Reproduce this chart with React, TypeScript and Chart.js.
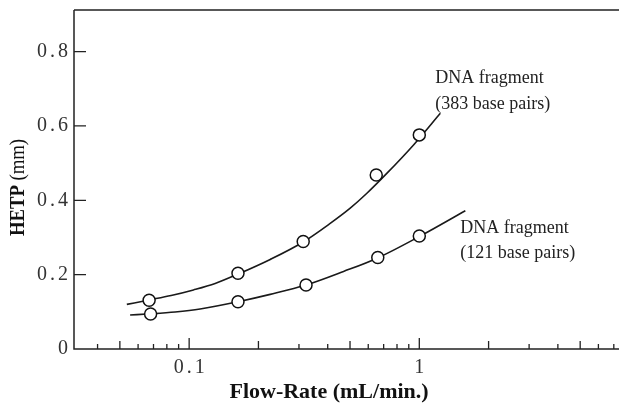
import { useEffect, useRef } from 'react';
import { Chart, registerables } from 'chart.js';

Chart.register(...registerables);

// Smooth curves drawn through the data in the figure
const bp383CurveX = [0.0536, 0.067, 0.0835, 0.1044, 0.1297, 0.1633, 0.225, 0.313, 0.41, 0.501, 0.592, 0.724, 0.944, 1.234];
const bp383CurveY = [0.12, 0.132, 0.144, 0.159, 0.1763, 0.2018, 0.241, 0.288, 0.338, 0.379, 0.419, 0.473, 0.549, 0.634];
const bp121CurveX = [0.0554, 0.0682, 0.0869, 0.1116, 0.1633, 0.225, 0.3216, 0.4688, 0.663, 1.01, 1.585];
const bp121CurveY = [0.0915, 0.0947, 0.0996, 0.1076, 0.1273, 0.147, 0.172, 0.2086, 0.2457, 0.304, 0.372];

// Measured points (open circles)
const bp383X = [0.067, 0.163, 0.313, 0.65, 1.0];
const bp383Y = [0.131, 0.204, 0.289, 0.468, 0.576];
const bp121X = [0.068, 0.163, 0.322, 0.66, 1.0];
const bp121Y = [0.094, 0.127, 0.172, 0.246, 0.304];

// Axis ticks
const xTicks = [0.04, 0.05, 0.06, 0.07, 0.08, 0.09, 0.1, 0.2, 0.3, 0.4, 0.5, 0.6, 0.7, 0.8, 0.9, 1, 2, 3, 4, 5, 6, 7];
const xLabelValues = [0.1, 1];
const xLabelTexts = ['0.1', '1'];
const yTicks = [0, 0.2, 0.4, 0.6, 0.8];

const SERIF = '"Liberation Serif", "Times New Roman", serif';

const toPoints = (xs: number[], ys: number[]) => xs.map((x, i) => ({ x, y: ys[i] }));

const noPadding = (s: any) => {
  s.paddingTop = 0;
  s.paddingBottom = 0;
  s.paddingLeft = 0;
  s.paddingRight = 0;
};

const paperPlugin = {
  id: 'paperAxes',
  beforeDraw(chart: any) {
    // spaced-out digits on the tick labels
    chart.ctx.letterSpacing = '3px';
  },
  afterDraw(chart: any) {
    const { ctx, chartArea: a, scales } = chart;
    const xs = scales.x;
    const ys = scales.y;
    const right = 619; // visible page edge
    ctx.save();

    // x tick labels (only the decades are labelled)
    ctx.letterSpacing = '3px';
    ctx.fillStyle = '#333';
    ctx.font = `20px ${SERIF}`;
    ctx.textAlign = 'center';
    ctx.textBaseline = 'middle';
    xLabelValues.forEach((v, i) => {
      ctx.fillText(xLabelTexts[i], xs.getPixelForValue(v) + 1.5, a.bottom + 19);
    });
    ctx.letterSpacing = '0px';

    // frame: top, left, bottom (no right side)
    ctx.strokeStyle = '#222';
    ctx.lineWidth = 1.5;
    ctx.beginPath();
    ctx.moveTo(a.left, a.top);
    ctx.lineTo(right, a.top);
    ctx.moveTo(a.left, a.top);
    ctx.lineTo(a.left, a.bottom);
    ctx.lineTo(right, a.bottom);
    ctx.stroke();

    // inward ticks
    ctx.lineWidth = 1.3;
    ctx.beginPath();
    xTicks.forEach((v) => {
      const px = xs.getPixelForValue(v);
      const m = Math.round(v / Math.pow(10, Math.floor(Math.log10(v) + 1e-9)));
      const len = m === 1 ? 11 : m === 2 || m === 5 ? 8 : 5;
      ctx.moveTo(px, a.bottom);
      ctx.lineTo(px, a.bottom - len);
    });
    yTicks.slice(1).forEach((v) => {
      const py = ys.getPixelForValue(v);
      ctx.moveTo(a.left, py);
      ctx.lineTo(a.left + 12, py);
    });
    ctx.stroke();

    // series labels
    ctx.fillStyle = '#222';
    ctx.font = `18px ${SERIF}`;
    ctx.textAlign = 'left';
    ctx.textBaseline = 'middle';
    const l1x = xs.getPixelForValue(1.174);
    const l1y = ys.getPixelForValue(0.729);
    ctx.fillText('DNA fragment', l1x, l1y);
    ctx.fillText('(383 base pairs)', l1x, l1y + 26);
    const l2x = xs.getPixelForValue(1.507);
    const l2y = ys.getPixelForValue(0.3256);
    ctx.fillText('DNA fragment', l2x, l2y);
    ctx.fillText('(121 base pairs)', l2x, l2y + 25);

    // x title
    ctx.fillStyle = '#111';
    ctx.font = `bold 22px ${SERIF}`;
    ctx.textAlign = 'center';
    ctx.fillText('Flow-Rate (mL/min.)', a.left + (right - a.left) * 0.468, a.bottom + 43);

    // y title, rotated and a bit condensed
    ctx.save();
    ctx.translate(18, (a.top + a.bottom) / 2 + 8);
    ctx.rotate(-Math.PI / 2);
    ctx.scale(0.85, 1);
    const boldFont = `bold 22px ${SERIF}`;
    const normFont = `22px ${SERIF}`;
    ctx.font = boldFont;
    const w1 = ctx.measureText('HETP ').width;
    ctx.font = normFont;
    const w2 = ctx.measureText('(mm)').width;
    const start = -(w1 + w2) / 2;
    ctx.textAlign = 'left';
    ctx.font = boldFont;
    ctx.fillText('HETP ', start, 0);
    ctx.font = normFont;
    ctx.fillText('(mm)', start + w1, 0);
    ctx.restore();

    ctx.restore();
  },
};

export default function App() {
  const canvasRef = useRef<HTMLCanvasElement>(null);
  const chartRef = useRef<Chart | null>(null);

  useEffect(() => {
    if (!canvasRef.current) return;
    if (chartRef.current) chartRef.current.destroy();

    const curveStyle = {
      showLine: true,
      borderColor: '#1a1a1a',
      borderWidth: 1.6,
      pointRadius: 0,
      cubicInterpolationMode: 'monotone' as const,
      order: 2,
    };
    const markerStyle = {
      showLine: false,
      pointRadius: 6,
      pointBorderWidth: 1.5,
      pointBorderColor: '#111',
      pointBackgroundColor: '#fff',
      order: 1,
    };

    chartRef.current = new Chart(canvasRef.current, {
      type: 'scatter',
      data: {
        datasets: [
          { label: '383 bp fit', data: toPoints(bp383CurveX, bp383CurveY), ...curveStyle },
          { label: '121 bp fit', data: toPoints(bp121CurveX, bp121CurveY), ...curveStyle },
          { label: '383 bp', data: toPoints(bp383X, bp383Y), ...markerStyle },
          { label: '121 bp', data: toPoints(bp121X, bp121Y), ...markerStyle },
        ],
      },
      options: {
        responsive: true,
        maintainAspectRatio: false,
        animation: false,
        layout: { padding: { top: 10, right: 0, left: 0, bottom: 0 } },
        plugins: {
          legend: { display: false },
          tooltip: { enabled: false },
        },
        scales: {
          x: {
            type: 'logarithmic',
            min: 0.0316,
            max: 7.41,
            grid: { display: false, drawTicks: false },
            border: { display: false },
            afterBuildTicks: (s: any) => {
              s.ticks = xTicks.map((v) => ({ value: v }));
            },
            afterFit: (s: any) => {
              s.height = 56;
              noPadding(s);
            },
            ticks: { display: false },
          },
          y: {
            type: 'linear',
            min: 0,
            max: 0.912,
            grid: { display: false, drawTicks: false },
            border: { display: false },
            afterBuildTicks: (s: any) => {
              s.ticks = yTicks.map((v) => ({ value: v }));
            },
            afterFit: (s: any) => {
              s.width = 74;
              noPadding(s);
            },
            ticks: {
              padding: 3,
              color: '#333',
              font: { family: SERIF, size: 20 },
              callback: (v: any) => (v === 0 ? '0' : Number(v).toFixed(1)),
            },
          },
        },
      },
      plugins: [paperPlugin],
    });

    return () => {
      if (chartRef.current) {
        chartRef.current.destroy();
        chartRef.current = null;
      }
    };
  }, []);

  return (
    <div style={{ position: 'fixed', left: 0, top: 0, width: 619, height: 405, overflow: 'hidden', background: '#fff' }}>
      {/* Chart.js keeps an 8px right margin; let it fall outside the page */}
      <div style={{ position: 'relative', width: 627, height: 405 }}>
        <canvas ref={canvasRef} />
      </div>
    </div>
  );
}
